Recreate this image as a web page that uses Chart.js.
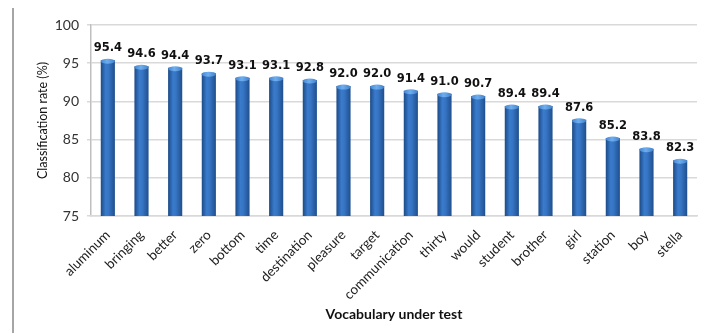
<!DOCTYPE html>
<html>
<head>
<meta charset="utf-8">
<script src="https://cdn.jsdelivr.net/npm/chart.js@4/dist/chart.umd.min.js"></script>
<style>
  html, body { margin: 0; padding: 0; background: #fff; }
  #wrap { position: relative; width: 701px; height: 333px; }
  #edge { position: absolute; left: 12px; top: 8px; width: 0; height: 325px; border-left: 2px solid #a6a6a6; }
</style>
</head>
<body>
<div id="wrap">
  <div id="edge"></div>
  <canvas id="rateChart" width="701" height="333"></canvas>
</div>
<script>
const words = ['aluminum', 'bringing', 'better', 'zero', 'bottom', 'time', 'destination', 'pleasure',
  'target', 'communication', 'thirty', 'would', 'student', 'brother', 'girl', 'station', 'boy', 'stella'];
const rates = [95.4, 94.6, 94.4, 93.7, 93.1, 93.1, 92.8, 92.0, 92.0, 91.4, 91.0, 90.7, 89.4, 89.4, 87.6, 85.2, 83.8, 82.3];
const yTicks = [75, 80, 85, 90, 95, 100];

const BAR_PCT = 0.42;

// cylinder-ish shading across each bar
function barFill(c) {
  const chart = c.chart;
  const xs = chart.scales.x;
  if (!xs || c.dataIndex === undefined) return '#2f6bb5';
  const cx = xs.getPixelForValue(c.dataIndex);
  const w = xs.width / words.length * BAR_PCT;
  if (!isFinite(cx) || !isFinite(w) || w <= 0) return '#2f6bb5';
  const g = chart.ctx.createLinearGradient(cx - w / 2, 0, cx + w / 2, 0);
  g.addColorStop(0, '#1c4a86');
  g.addColorStop(0.35, '#3a7bcc');
  g.addColorStop(0.55, '#3775c4');
  g.addColorStop(1, '#1f4f8e');
  return g;
}

// light cap on top of each bar + value labels
const capsAndLabels = {
  id: 'capsAndLabels',
  afterDatasetsDraw(chart) {
    const ctx = chart.ctx;
    const meta = chart.getDatasetMeta(0);
    ctx.save();
    meta.data.forEach((bar, i) => {
      const w = bar.width;
      const g = ctx.createLinearGradient(bar.x - w / 2, 0, bar.x + w / 2, 0);
      g.addColorStop(0, '#4585d2');
      g.addColorStop(0.45, '#6eaeee');
      g.addColorStop(1, '#4181cc');
      ctx.fillStyle = g;
      ctx.beginPath();
      ctx.ellipse(bar.x, bar.y + 1, w / 2, 2.5, 0, 0, Math.PI * 2);
      ctx.fill();

      ctx.fillStyle = '#111';
      ctx.font = 'bold 11.5px "DejaVu Sans"';
      ctx.textAlign = 'center';
      ctx.textBaseline = 'bottom';
      ctx.fillText(rates[i].toFixed(1), bar.x, bar.y - 6);
    });
    ctx.restore();
  }
};

new Chart(document.getElementById('rateChart').getContext('2d'), {
  type: 'bar',
  data: {
    labels: words,
    datasets: [{
      label: 'Classification rate',
      data: rates,
      backgroundColor: barFill,
      borderWidth: 0,
      barPercentage: BAR_PCT,
      categoryPercentage: 1
    }]
  },
  options: {
    responsive: false,
    animation: false,
    layout: { padding: { left: 24, right: 4, top: 25, bottom: 10 } },
    plugins: {
      legend: { display: false },
      tooltip: { enabled: false }
    },
    scales: {
      y: {
        min: 75,
        max: 100,
        afterBuildTicks: s => { s.ticks = yTicks.map(v => ({ value: v })); },
        afterFit: s => { s.width = 67; },
        grid: { color: '#d9d9d9', lineWidth: 1.5, drawTicks: true, tickLength: 4 },
        border: { color: '#bfbfbf', width: 1.5 },
        ticks: { color: '#333', font: { family: 'Lato', size: 14 }, padding: 8 },
        title: {
          display: true,
          text: 'Classification rate (%)',
          color: '#111',
          font: { family: 'Lato', size: 12.5 },
          padding: { top: 11, bottom: 0 }
        }
      },
      x: {
        afterFit: s => { s.height = 107; },
        grid: { display: false },
        border: { color: '#d9d9d9', width: 1.5 },
        ticks: {
          color: '#222',
          font: { family: 'Lato', size: 13.5 },
          minRotation: 45,
          maxRotation: 45,
          autoSkip: false,
          padding: 3
        },
        title: {
          display: true,
          text: 'Vocabulary under test',
          color: '#111',
          font: { family: 'Lato', size: 14, weight: 'bold' },
          padding: { top: 0, bottom: 0 }
        }
      }
    }
  },
  plugins: [capsAndLabels]
});
</script>
</body>
</html>
